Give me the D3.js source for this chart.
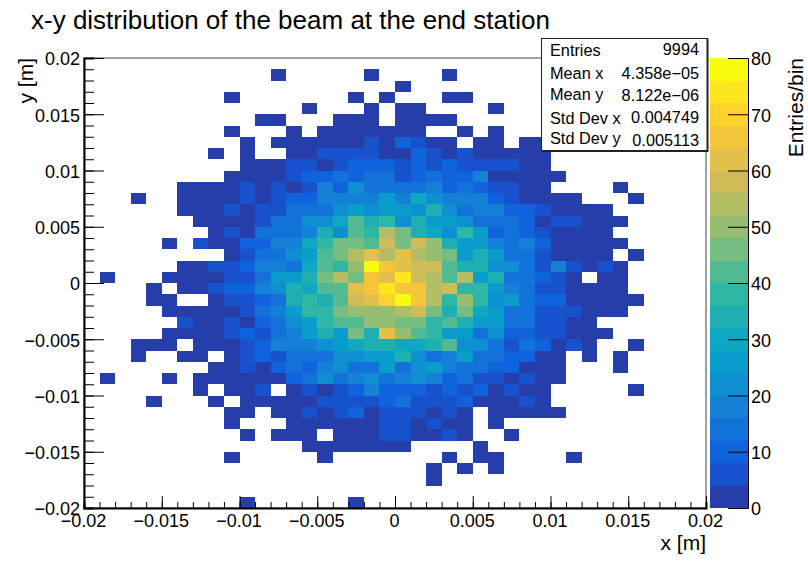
<!DOCTYPE html>
<html>
<head>
  <meta charset="utf-8" />
  <script src="https://d3js.org/d3.v7.min.js"></script>
  <style>
    body { margin: 0; padding: 0; background-color: #ffffff; }
    svg { display: block; font-family: "Liberation Sans", sans-serif; }
    .axis text { font-size: 18px; fill: #000; font-family: "Liberation Sans", sans-serif; }
    .axis line, .axis path { stroke: #000; }
    .stat { font-size: 16.3px; fill: #000; }
  </style>
</head>
<body>
  <svg id="chart" width="808" height="561"></svg>
  <script>
    const titleText = "x-y distribution of the beam at the end station";
    const xLabel = "x [m]";
    const yLabel = "y [m]";
    const zLabel = "Entries/bin";

    const axisRange = [-0.02, 0.02];
    const binCount = 40;
    const majorTicks = [-0.02, -0.015, -0.01, -0.005, 0, 0.005, 0.01, 0.015, 0.02];
    const zTicks = [0, 10, 20, 30, 40, 50, 60, 70, 80];
    const zLevels = 20;
    const zMax = 80;

    const statNames = ["Entries", "Mean x", "Mean y", "Std Dev x", "Std Dev y"];
    const statValues = ["9994", "4.358e\u221205", "8.122e\u221206", "0.004749", "0.005113"];

    // kBird palette stops
    const birdStops = ["#352a87", "#0f5cdd", "#1481d6", "#06a4ca", "#2eb7a4", "#87bf77", "#d1bb59", "#fec832", "#f9fb0e"];

    const counts = [
      [0,0,0,0,0,0,0,0,0,0, 0,0,0,0,0,0,0,0,0,0, 0,0,0,0,0,0,0,0,0,0, 0,0,0,0,0,0,0,0,0,0],
      [0,0,0,0,0,0,0,0,0,0, 0,0,2,0,0,0,0,0,2,0, 0,0,0,2,0,0,0,0,0,0, 0,0,0,0,0,0,0,0,0,0],
      [0,0,0,0,0,0,0,0,0,0, 0,0,0,0,0,0,0,0,0,0, 2,0,0,0,0,0,0,0,0,0, 0,0,0,0,0,0,0,0,0,0],
      [0,0,0,0,0,0,0,0,0,2, 0,0,0,0,0,0,0,2,0,2, 0,0,0,2,2,0,0,0,0,0, 0,0,0,0,0,0,0,0,0,0],
      [0,0,0,0,0,0,0,0,0,0, 0,0,0,0,2,0,0,0,2,0, 2,2,0,0,0,0,2,0,0,0, 0,0,0,0,0,0,0,0,0,0],
      [0,0,0,0,0,0,0,0,0,0, 0,2,2,0,0,0,2,2,2,0, 2,2,2,2,0,0,0,0,0,0, 0,0,0,0,0,0,0,0,0,0],
      [0,0,0,0,0,0,0,0,0,2, 0,0,0,2,0,2,2,2,2,2, 2,2,0,0,2,0,2,0,0,0, 0,0,0,0,0,0,0,0,0,0],
      [0,0,0,0,0,0,0,0,0,0, 2,0,2,2,2,2,2,2,6,2, 10,6,2,2,0,2,2,0,2,2, 0,0,0,0,0,0,0,0,0,0],
      [0,0,0,0,0,0,0,0,2,0, 2,0,0,2,2,6,6,6,6,2, 2,10,6,2,6,2,2,2,2,2, 0,0,0,0,0,0,0,0,0,0],
      [0,0,0,0,0,0,0,0,0,0, 2,2,2,6,6,2,6,10,10,10, 6,10,6,10,6,6,6,6,2,2, 0,0,0,0,0,0,0,0,0,0],
      [0,0,0,0,0,0,0,0,0,2, 2,2,2,6,10,10,14,10,14,14, 6,10,14,10,10,18,2,2,2,2, 2,0,0,0,0,0,0,0,0,0],
      [0,0,0,0,0,0,2,2,2,2, 6,2,6,2,6,18,10,22,14,14, 14,14,18,10,14,10,6,6,2,2, 0,0,0,0,2,0,0,0,0,0],
      [0,0,0,2,0,0,2,2,2,2, 6,2,6,10,10,18,18,18,18,26, 18,30,22,18,18,18,10,6,2,2, 2,2,0,0,0,2,0,0,0,0],
      [0,0,0,0,0,0,2,2,2,6, 2,6,6,14,14,14,22,26,22,26, 26,22,34,22,14,18,18,10,10,6, 2,2,2,2,0,0,0,0,0,0],
      [0,0,0,0,0,0,0,2,2,2, 2,6,14,14,22,22,30,42,34,38, 22,34,26,26,22,14,14,14,10,2, 6,6,2,2,2,0,0,0,0,0],
      [0,0,0,0,0,0,0,0,2,6, 2,14,14,14,18,34,22,42,38,54, 46,34,30,22,38,26,10,14,10,6, 2,2,2,2,0,0,0,0,0,0],
      [0,0,0,0,0,2,0,6,2,2, 10,10,18,18,30,38,46,46,42,58, 46,58,50,34,26,26,18,14,18,10, 2,2,2,2,2,0,0,0,0,0],
      [0,0,0,0,0,0,0,0,0,2, 6,14,14,22,26,42,46,54,62,54, 62,54,50,46,26,34,26,14,14,6, 2,2,2,2,0,2,0,0,0,0],
      [0,0,0,0,0,0,2,2,6,6, 10,18,18,14,30,42,38,50,78,66, 62,58,58,42,34,34,22,22,14,6, 18,6,2,6,2,0,0,0,0,0],
      [0,2,0,0,0,2,2,2,2,6, 6,14,26,26,34,46,54,46,66,62, 74,58,54,42,54,26,34,14,14,10, 6,2,0,2,2,0,0,0,0,0],
      [0,0,0,0,2,0,2,2,6,10, 10,18,22,34,30,42,42,62,66,74, 66,66,54,58,38,38,26,18,14,6, 6,2,2,2,2,0,0,0,0,0],
      [0,0,0,0,2,2,0,0,2,6, 6,10,14,34,38,34,42,58,62,70, 78,66,54,38,50,38,22,26,14,10, 10,2,2,2,2,2,0,0,0,0],
      [0,0,0,0,0,2,2,2,2,2, 6,14,18,26,38,38,46,50,50,50, 54,58,46,34,46,30,26,14,14,6, 6,6,2,2,2,0,0,0,0,0],
      [0,0,0,0,0,0,6,2,2,6, 2,10,14,22,26,38,42,42,50,50, 46,46,38,42,34,26,26,14,14,6, 6,2,2,0,0,0,0,0,0,0],
      [0,0,0,0,0,2,2,2,2,6, 10,6,14,18,26,34,26,46,34,62, 50,42,38,26,26,14,22,10,10,6, 6,2,2,2,0,0,0,0,0,0],
      [0,0,0,2,2,2,0,2,2,2, 6,10,18,18,18,22,26,30,34,34, 30,30,34,42,22,22,14,6,14,10, 2,6,2,0,0,2,0,0,0,0],
      [0,0,0,2,0,0,2,2,0,2, 6,10,6,14,14,14,22,22,26,26, 34,22,14,18,26,14,14,10,10,2, 2,0,2,0,2,0,0,0,0,0],
      [0,0,0,0,0,0,0,0,2,2, 6,2,10,14,10,18,22,14,14,26, 14,22,26,18,14,14,10,10,2,2, 2,0,0,0,2,0,0,0,0,0],
      [0,2,0,0,0,2,0,2,2,2, 2,2,2,10,14,22,14,18,22,14, 18,22,18,10,14,6,6,2,6,2, 2,0,0,0,0,0,0,0,0,0],
      [0,0,0,0,0,0,0,2,0,2, 2,6,0,2,6,2,6,10,18,10, 10,10,6,10,6,10,2,6,2,2, 0,0,0,0,0,2,0,0,0,0],
      [0,0,0,0,2,0,0,0,2,0, 2,2,2,2,2,6,6,6,6,10, 14,6,6,6,10,2,2,2,6,2, 0,0,0,0,0,0,0,0,0,0],
      [0,0,0,0,0,0,0,0,0,2, 2,0,2,2,6,2,6,10,2,6, 6,6,2,6,2,0,2,2,2,2, 2,0,0,0,0,0,0,0,0,0],
      [0,0,0,0,0,0,0,0,0,2, 0,0,0,2,2,2,2,2,2,6, 6,2,6,2,2,0,2,0,0,0, 0,0,0,0,0,0,0,0,0,0],
      [0,0,0,0,0,0,0,0,0,0, 2,0,2,2,2,0,2,2,2,6, 6,2,2,6,2,0,0,2,0,0, 0,0,0,0,0,0,0,0,0,0],
      [0,0,0,0,0,0,0,0,0,0, 0,0,0,0,2,2,2,2,2,2, 2,0,0,0,0,2,0,0,0,0, 0,0,0,0,0,0,0,0,0,0],
      [0,0,0,0,0,0,0,0,0,2, 0,0,0,0,0,2,0,0,0,0, 0,0,0,2,0,2,2,0,0,0, 0,2,0,0,0,0,0,0,0,0],
      [0,0,0,0,0,0,0,0,0,0, 0,0,0,0,0,0,0,0,0,0, 0,0,2,0,2,0,2,0,0,0, 0,0,0,0,0,0,0,0,0,0],
      [0,0,0,0,0,0,0,0,0,0, 0,0,0,0,0,0,0,0,0,0, 0,0,2,0,0,0,0,0,0,0, 0,0,0,0,0,0,0,0,0,0],
      [0,0,0,0,0,0,0,0,0,0, 0,0,0,0,0,0,0,0,0,0, 0,0,0,0,0,0,0,0,0,0, 0,0,0,0,0,0,0,0,0,0],
      [0,0,0,0,0,0,0,0,0,0, 2,0,0,0,0,0,0,2,0,0, 0,0,0,0,0,0,0,0,0,0, 0,0,0,0,0,0,0,0,0,0]
    ];

    const svg = d3.select("#chart");
    const margin = { top: 58, left: 84, right: 706, bottom: 508 };

    const x = d3.scaleLinear().domain(axisRange).range([margin.left, margin.right]);
    const y = d3.scaleLinear().domain(axisRange).range([margin.bottom, margin.top]);
    const z = d3.scaleLinear().domain([0, zMax]).range([margin.bottom, margin.top]);

    const binWidth = (axisRange[1] - axisRange[0]) / binCount;
    const minorTicks = d3.range(binCount + 1).map(i => axisRange[0] + i * binWidth);

    // same picking of a colour per contour as ROOT: top of the band
    const bird = d3.scaleLinear()
      .domain(birdStops.map((c, i) => i / (birdStops.length - 1)))
      .range(birdStops);
    const levelColor = v => bird((Math.floor(v / (zMax / zLevels)) + 1) / zLevels);

    // cells
    const cells = [];
    counts.forEach((row, r) => row.forEach((v, c) => {
      if (v > 0) cells.push({ r, c, v });
    }));

    svg.append("g")
      .attr("shape-rendering", "crispEdges")
      .selectAll("rect")
      .data(cells)
      .enter()
      .append("rect")
      .attr("x", d => x(axisRange[0] + d.c * binWidth))
      .attr("y", d => y(axisRange[1] - d.r * binWidth))
      .attr("width", x(binWidth) - x(0))
      .attr("height", y(0) - y(binWidth))
      .attr("fill", d => levelColor(d.v));

    // frame, top and right are thin
    svg.append("rect")
      .attr("x", margin.left).attr("y", margin.top)
      .attr("width", margin.right - margin.left).attr("height", margin.bottom - margin.top)
      .attr("fill", "none").attr("stroke", "#444").attr("stroke-width", 1);

    const tickFormat = d => d3.format("~g")(Math.abs(d) < 1e-9 ? 0 : d);

    // x axis, ticks point up into the plot
    const xAxis = svg.append("g").attr("class", "axis")
      .attr("transform", `translate(0,${margin.bottom})`);
    xAxis.call(d3.axisBottom(x).tickValues(minorTicks).tickSize(-6).tickFormat(""));
    xAxis.selectAll(".domain").attr("stroke-width", 2);
    const xMajor = svg.append("g").attr("class", "axis")
      .attr("transform", `translate(0,${margin.bottom})`)
      .call(d3.axisBottom(x).tickValues(majorTicks).tickSize(-12).tickFormat(tickFormat));
    xMajor.selectAll(".domain").remove();
    xMajor.selectAll("text").attr("x", -1).attr("y", 6).attr("dy", "13px");

    // y axis, ticks point right
    const yAxis = svg.append("g").attr("class", "axis")
      .attr("transform", `translate(${margin.left},0)`);
    yAxis.call(d3.axisLeft(y).tickValues(minorTicks).tickSize(-10).tickFormat(""));
    yAxis.selectAll(".domain").attr("stroke-width", 2);
    const yMajor = svg.append("g").attr("class", "axis")
      .attr("transform", `translate(${margin.left},0)`)
      .call(d3.axisLeft(y).tickValues(majorTicks).tickSize(-20).tickFormat(tickFormat));
    yMajor.selectAll(".domain").remove();
    yMajor.selectAll("text").attr("x", -4).attr("y", 1);

    // colour bar
    const barLeft = 710, barRight = 748;
    svg.append("g")
      .attr("shape-rendering", "crispEdges")
      .selectAll("rect")
      .data(d3.range(zLevels))
      .enter()
      .append("rect")
      .attr("x", barLeft)
      .attr("y", d => z((d + 1) * zMax / zLevels))
      .attr("width", barRight - barLeft)
      .attr("height", z(0) - z(zMax / zLevels))
      .attr("fill", d => bird((d + 1) / zLevels));

    const zAxis = svg.append("g").attr("class", "axis")
      .attr("transform", `translate(${barRight},0)`)
      .call(d3.axisRight(z).tickValues(zTicks).tickSize(-20).tickFormat(d3.format("d")));
    zAxis.selectAll("text").attr("x", 3).attr("y", 1);
    zAxis.selectAll(".domain").attr("stroke", "#444");

    // stats box
    svg.append("rect").attr("x", 541.5).attr("y", 38.5).attr("width", 166).attr("height", 112)
      .attr("fill", "#fff").attr("stroke", "#222").attr("stroke-width", 1);
    svg.append("path").attr("d", "M707.5,39V151H542").attr("fill", "none").attr("stroke", "#222").attr("stroke-width", 2);

    const nameY = d3.scalePoint().domain(statNames).range([56, 143]);
    const nameOffset = [0, 1, 0, 3, 1];
    const valueOffset = [-1, 1, 1, 2, 3];
    svg.append("g").selectAll("text").data(statNames).enter().append("text")
      .attr("class", "stat").attr("x", 550)
      .attr("y", (d, i) => nameY(d) + nameOffset[i])
      .text(d => d);
    svg.append("g").selectAll("text").data(statValues).enter().append("text")
      .attr("class", "stat").attr("x", 699).attr("text-anchor", "end")
      .attr("y", (d, i) => nameY(statNames[i]) + valueOffset[i])
      .text(d => d);

    // titles
    svg.append("text").attr("x", 31).attr("y", 29).attr("font-size", 26).text(titleText);
    svg.append("text").attr("x", 706).attr("y", 550).attr("text-anchor", "end").attr("font-size", 21).text(xLabel);
    svg.append("text").attr("transform", "translate(33,58) rotate(-90)").attr("text-anchor", "end").attr("font-size", 21).text(yLabel);
    svg.append("text").attr("transform", "translate(803,58) rotate(-90)").attr("text-anchor", "end").attr("font-size", 21).text(zLabel);
  </script>
</body>
</html>
